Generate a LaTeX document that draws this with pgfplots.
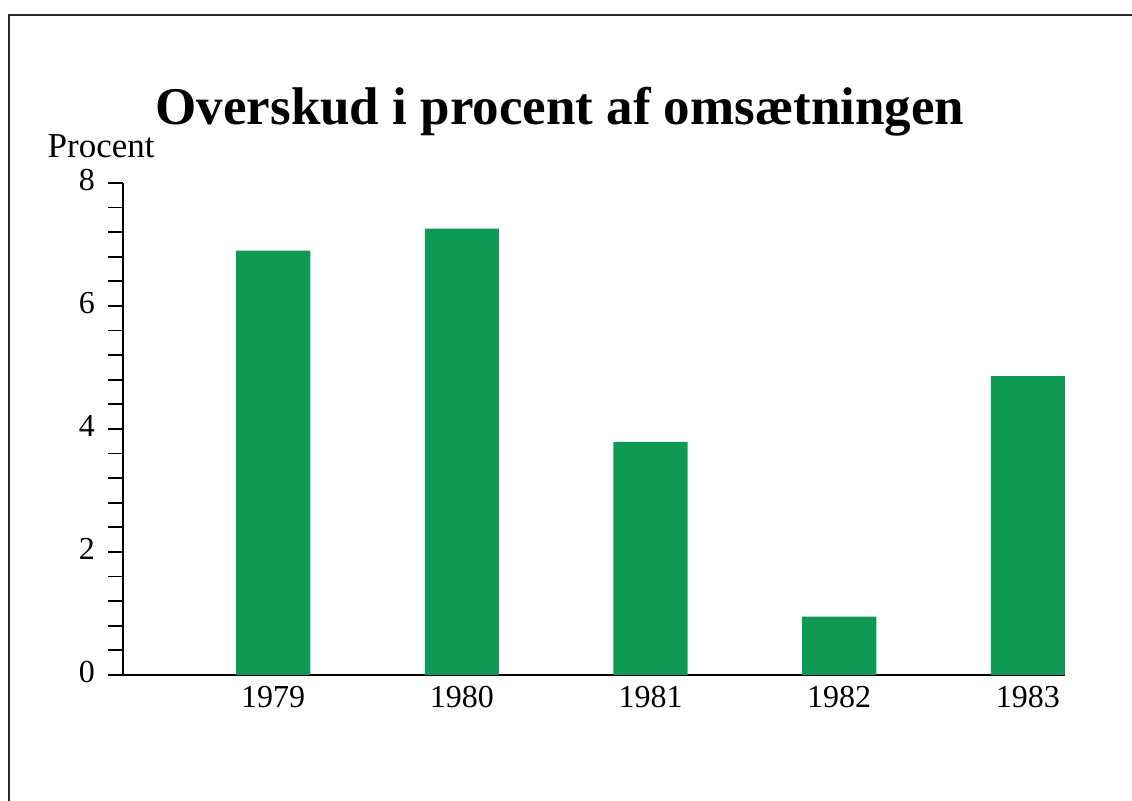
\documentclass[border=0pt]{standalone}
\usepackage{pgfplots}
\pgfplotsset{compat=1.18}
\usepackage{fontspec}
\setmainfont{Liberation Serif}
\definecolor{barg}{RGB}{14,154,84}
\definecolor{framec}{RGB}{40,40,40}
\begin{document}
\begin{tikzpicture}
\useasboundingbox (0,0) rectangle (566pt,400.5pt);
% page frame (scan edge)
\draw[framec, line width=1pt] (4.5pt,0pt) -- (4.5pt,393pt) -- (566pt,393pt);
\begin{axis}[
  at={(61.5pt,63pt)}, anchor=south west,
  scale only axis, width=471pt, height=246pt,
  xmin=-0.796, xmax=4.197, ymin=0, ymax=8,
  axis x line=bottom, axis y line=left, axis line style={-},
  x axis line style={line width=1.3pt},
  y axis line style={line width=1pt},
  ytick={0,2,4,6,8}, minor y tick num=4,
  tick align=outside, major tick length=7.5pt, minor tick length=7.5pt,
  ytick style={line width=0.9pt, black},
  minor y tick style={line width=0.9pt, black},
  xtick=data, xticklabels={1979,1980,1981,1982,1983},
  xtick style={draw=none},
  typeset ticklabels with strut,
  /pgf/number format/assume math mode=true,
  ticklabel style={font=\fontsize{16}{19}\selectfont},
  yticklabel style={xshift=-3pt},
  xticklabel style={yshift=8pt},
  clip=false,
]
\addplot[ybar, bar width=0.393, fill=barg, draw=none] coordinates {
  (0,6.90) (1,7.26) (2,3.79) (3,0.95) (4,4.86)
};
\draw[line width=1.3pt] (rel axis cs:0,0) -- ++(-7.5pt,0pt);
\end{axis}
\node[anchor=base, inner sep=0pt, font=\fontsize{26.5}{30}\selectfont\bfseries] at (280pt,338pt) {Overskud i procent af omsætningen};
\node[anchor=base east, inner sep=0pt, font=\fontsize{17.5}{20}\selectfont] at (77.5pt,321.5pt) {Procent};
\end{tikzpicture}
\end{document}
